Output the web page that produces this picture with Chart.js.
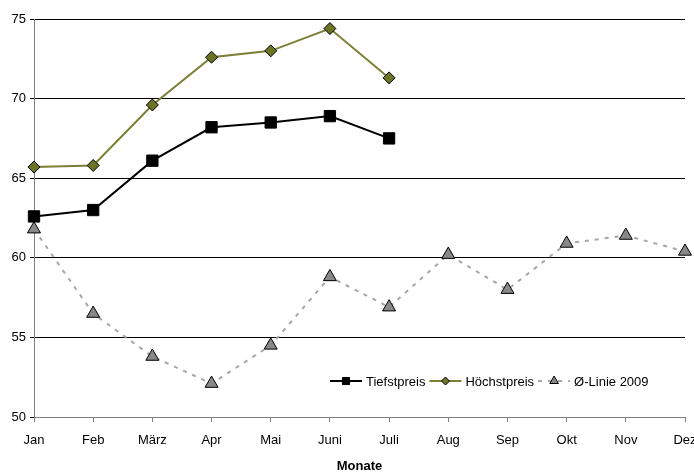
<!DOCTYPE html>
<html>
<head>
<meta charset="utf-8">
<script src="https://cdn.jsdelivr.net/npm/chart.js@4.4.1/dist/chart.umd.min.js"></script>
<style>
html, body { margin: 0; padding: 0; background: #fff; overflow: hidden; }
#wrap { width: 694px; height: 474px; }
</style>
</head>
<body>
<div id="wrap"><canvas id="chart"></canvas></div>
<script>
const months = ['Jan', 'Feb', 'März', 'Apr', 'Mai', 'Juni', 'Juli', 'Aug', 'Sep', 'Okt', 'Nov', 'Dez'];
const tiefstpreis = [62.6, 63.0, 66.1, 68.2, 68.5, 68.9, 67.5, null, null, null, null, null];
const hoechstpreis = [65.7, 65.8, 69.6, 72.6, 73.0, 74.4, 71.3, null, null, null, null, null];
const linie2009 = [61.8, 56.5, 53.8, 52.1, 54.5, 58.8, 56.9, 60.2, 58.0, 60.9, 61.4, 60.4];
const yMin = 50, yMax = 75, yStep = 5;

const FONT = 'Liberation Sans, Arial, sans-serif';

// legend drawn inside the plot, bottom right
const innerLegend = {
    id: 'innerLegend',
    afterDraw(chart) {
        const ctx = chart.ctx;
        const y = chart.chartArea.bottom - 36;
        let x = 330;
        ctx.save();
        ctx.font = '13px ' + FONT;
        ctx.textBaseline = 'middle';
        chart.data.datasets.forEach(ds => {
            const w = 32;
            ctx.strokeStyle = ds.borderColor;
            ctx.lineWidth = ds.borderWidth;
            ctx.setLineDash(ds.borderDash || []);
            ctx.beginPath();
            ctx.moveTo(x, y);
            ctx.lineTo(x + w, y);
            ctx.stroke();
            ctx.setLineDash([]);
            ctx.fillStyle = ds.pointBackgroundColor;
            ctx.strokeStyle = ds.pointBorderColor;
            ctx.lineWidth = 1;
            Chart.helpers.drawPoint(ctx, {pointStyle: ds.pointStyle, radius: ds.legendRadius, borderWidth: 1}, x + w / 2, y);
            ctx.fillStyle = '#000';
            ctx.fillText(ds.label, x + w + 4, y + 1);
            x += w + 4 + ctx.measureText(ds.label).width + 4;
        });
        ctx.restore();
    }
};

new Chart(document.getElementById('chart'), {
    type: 'line',
    data: {
        labels: months,
        datasets: [
            {
                label: 'Tiefstpreis',
                data: tiefstpreis,
                borderColor: '#000',
                borderWidth: 2,
                pointStyle: 'rect',
                pointRadius: 8,
                legendRadius: 5,
                pointBackgroundColor: '#000',
                pointBorderColor: '#000',
                pointBorderWidth: 1,
                tension: 0
            },
            {
                label: 'Höchstpreis',
                data: hoechstpreis,
                borderColor: '#7b8034',
                borderWidth: 2,
                pointStyle: 'rectRot',
                pointRadius: 6,
                legendRadius: 4,
                pointBackgroundColor: '#6b7424',
                pointBorderColor: '#000',
                pointBorderWidth: 1,
                tension: 0
            },
            {
                label: 'Ø-Linie 2009',
                data: linie2009,
                borderColor: '#a6a6a6',
                borderWidth: 2,
                borderDash: [4, 6],
                pointStyle: 'triangle',
                pointRadius: 7.5,
                legendRadius: 5,
                pointBackgroundColor: '#888888',
                pointBorderColor: '#000',
                pointBorderWidth: 1,
                tension: 0
            }
        ]
    },
    options: {
        responsive: true,
        maintainAspectRatio: false,
        animation: false,
        layout: { padding: { top: 19, right: 8, bottom: 0, left: 0 } },
        plugins: {
            legend: { display: false },
            tooltip: { enabled: false }
        },
        scales: {
            x: {
                offset: false,
                grid: { drawOnChartArea: false, tickLength: 5, color: '#808080' },
                border: { color: '#808080' },
                ticks: { color: '#000', font: { family: FONT, size: 13 }, padding: 11, autoSkip: false, maxRotation: 0 },
                title: { display: true, text: 'Monate', color: '#000', font: { family: FONT, size: 13, weight: 'bold' }, padding: { top: 1, bottom: 0 } },
                afterFit(scale) { scale.paddingRight = 0; scale.height = 57; }
            },
            y: {
                min: yMin,
                max: yMax,
                grid: { color: '#000', lineWidth: 1, tickLength: 4 },
                border: { color: '#808080' },
                ticks: { stepSize: yStep, color: '#000', font: { family: FONT, size: 13 }, padding: 4 },
                afterFit(scale) { scale.width = 34; }
            }
        }
    },
    plugins: [innerLegend]
});
</script>
</body>
</html>
